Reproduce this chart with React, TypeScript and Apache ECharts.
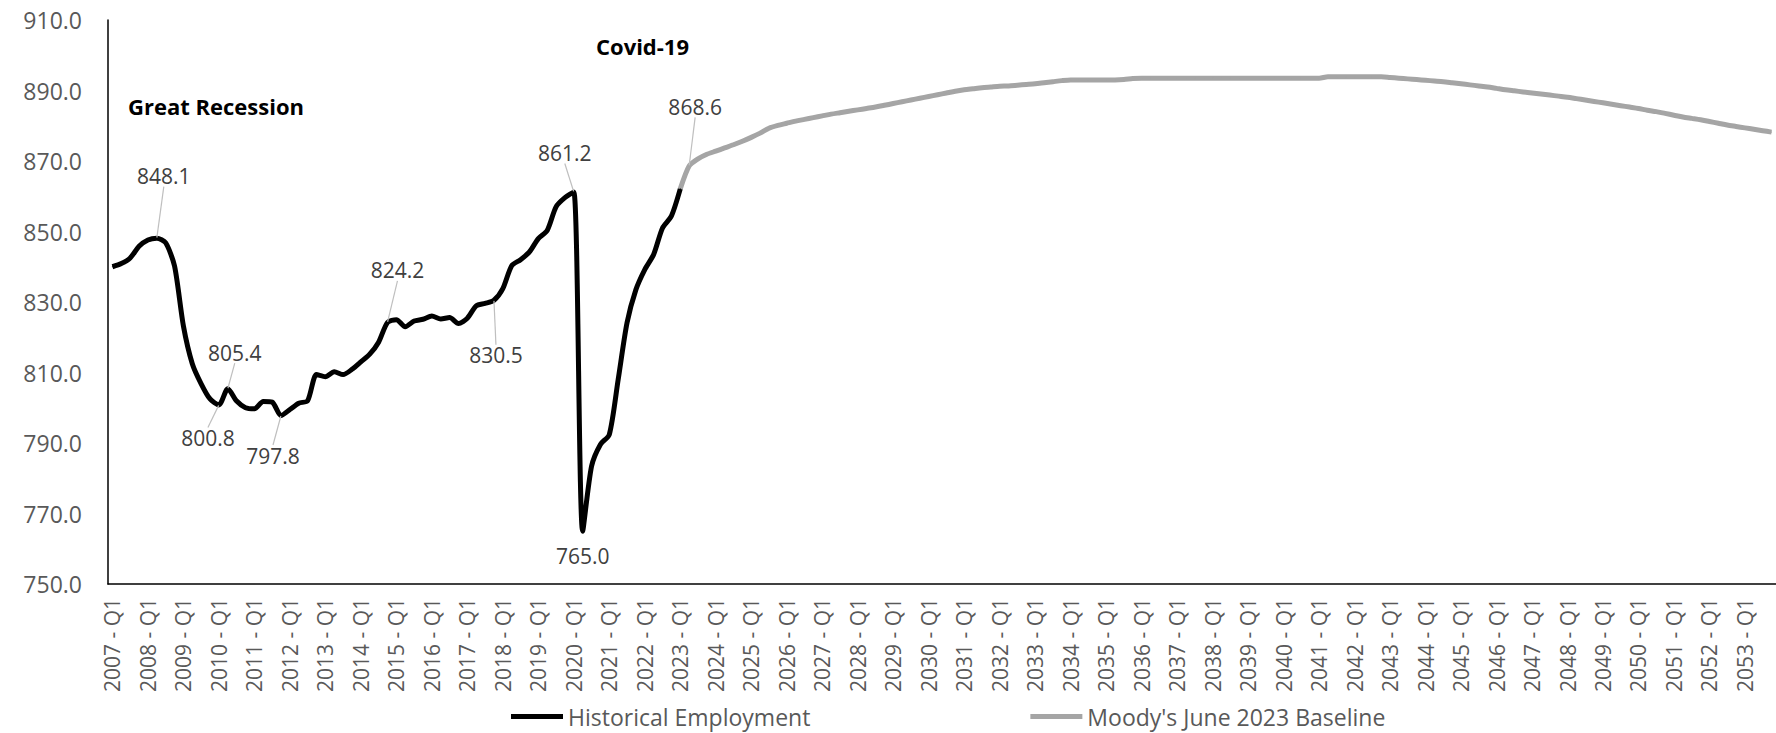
import React, { useEffect, useRef } from "react";
import * as echarts from "echarts";

// ---- Data ----
const startYear = 2007;
const endYear = 2053;
const quarters = ["Q1", "Q2", "Q3", "Q4"];

// Historical employment, 2007 Q1 .. 2023 Q1 (quarterly)
const historical: number[] = [
  840.0, 840.9, 842.5, 845.8, // 2007
  847.6, 848.1, 846.8, 840.2, // 2008
  823.2, 812.5, 806.8, 802.5, // 2009
  800.8, 805.4, 801.9, 800.0, // 2010
  799.7, 801.8, 801.6, 797.8, // 2011
  799.5, 801.3, 802.0, 809.4, // 2012
  808.8, 810.2, 809.4, 810.9, // 2013
  813.0, 815.2, 818.6, 824.2, // 2014
  825.0, 823.0, 824.6, 825.1, // 2015
  826.0, 825.2, 825.6, 823.9, // 2016
  825.4, 828.9, 829.6, 830.5, // 2017
  833.8, 840.3, 842.0, 844.2, // 2018
  848.0, 850.3, 857.0, 859.6, // 2019
  861.2, 765.0, 783.4, 789.6, // 2020
  792.4, 808.0, 824.1, 833.5, // 2021
  839.2, 843.5, 851.0, 854.4, // 2022
  862.1, // 2023 Q1
];

// Moody's June 2023 Baseline, 2023 Q1 .. 2053 Q4 (quarterly)
const baseline: number[] = [
  862.1, 868.6, 870.6, 871.9, // 2023
  872.8, 873.7, 874.6, 875.6, // 2024
  876.7, 877.9, 879.3, 880.1, // 2025
  880.7, 881.3, 881.8, 882.3, // 2026
  882.8, 883.3, 883.7, 884.1, // 2027
  884.5, 884.9, 885.3, 885.8, // 2028
  886.3, 886.8, 887.3, 887.8, // 2029
  888.3, 888.8, 889.3, 889.8, // 2030
  890.2, 890.5, 890.8, 891.0, // 2031
  891.2, 891.3, 891.5, 891.7, // 2032
  891.9, 892.2, 892.5, 892.8, // 2033
  893.0, 893.0, 893.0, 893.0, // 2034
  893.0, 893.0, 893.1, 893.4, // 2035
  893.5, 893.5, 893.5, 893.5, // 2036
  893.5, 893.5, 893.5, 893.5, // 2037
  893.5, 893.5, 893.5, 893.5, // 2038
  893.5, 893.5, 893.5, 893.5, // 2039
  893.5, 893.5, 893.5, 893.5, // 2040
  893.5, 893.9, 893.9, 893.9, // 2041
  893.9, 893.9, 893.9, 893.9, // 2042
  893.7, 893.5, 893.3, 893.1, // 2043
  892.9, 892.7, 892.5, 892.2, // 2044
  891.9, 891.6, 891.3, 891.0, // 2045
  890.6, 890.2, 889.9, 889.6, // 2046
  889.3, 889.0, 888.7, 888.4, // 2047
  888.1, 887.7, 887.3, 886.9, // 2048
  886.5, 886.1, 885.7, 885.3, // 2049
  884.9, 884.4, 884.0, 883.5, // 2050
  883.0, 882.5, 882.1, 881.7, // 2051
  881.2, 880.7, 880.2, 879.8, // 2052
  879.4, 879.0, 878.6, 878.2, // 2053
];

const yTicks = { min: 750, max: 910, step: 20 };

// Which points carry a data label (category name)
const labeledHistorical = ["2008 - Q2", "2010 - Q1", "2010 - Q2", "2011 - Q4", "2014 - Q4", "2017 - Q4", "2020 - Q1", "2020 - Q2"];
const labeledBaseline = ["2023 - Q2"];

const seriesNames = ["Historical Employment", "Moody's June 2023 Baseline"];
const annotations = ["Great Recession", "Covid-19"];

// ---- Layout / styling (not data) ----
const labelOffsets: Record<string, [number, number]> = {
  "2008 - Q2": [7, -62],
  "2010 - Q1": [-11, 33],
  "2010 - Q2": [7, -36],
  "2011 - Q4": [-8, 40],
  "2014 - Q4": [10, -52],
  "2017 - Q4": [2, 55],
  "2020 - Q1": [-9, -39],
  "2020 - Q2": [0, 25],
  "2023 - Q2": [6, -59],
};
const noLeader = ["2020 - Q2"];

const FONT = "'Open Sans', 'Noto Sans', sans-serif";

export default function App() {
  const ref = useRef<HTMLDivElement>(null);

  useEffect(() => {
    document.body.style.margin = "0";
    if (!ref.current) return;
    const chart = echarts.init(ref.current, undefined, { renderer: "svg" });

    const categories: string[] = [];
    for (let y = startYear; y <= endYear; y++) {
      for (const q of quarters) categories.push(`${y} - ${q}`);
    }
    const baseStart = categories.indexOf("2023 - Q1");

    const makeItem = (v: number | null, cat: string, labeled: string[]) => {
      if (v === null) return null;
      if (!labeled.includes(cat)) return v;
      return {
        value: v,
        label: { show: true },
        labelLine: { show: !noLeader.includes(cat) },
      };
    };

    const histData = categories.map((c, i) =>
      makeItem(i < historical.length ? historical[i] : null, c, labeledHistorical)
    );
    const baseData = categories.map((c, i) =>
      makeItem(i >= baseStart && i - baseStart < baseline.length ? baseline[i - baseStart] : null, c, labeledBaseline)
    );

    const layoutFn = (params: any) => {
      const cat = categories[params.dataIndex];
      const off = labelOffsets[cat];
      if (!off) return {};
      const cx = params.rect.x + params.rect.width / 2;
      const cy = params.rect.y + params.rect.height / 2;
      return { x: cx + off[0], y: cy + off[1], align: "center", verticalAlign: "middle" };
    };

    const labelCommon = {
      show: false,
      position: "inside",
      formatter: (p: any) => Number(p.value).toFixed(1),
      color: "#404040",
      fontSize: 21,
      fontFamily: FONT,
    };

    chart.setOption({
      animation: false,
      backgroundColor: "#ffffff",
      grid: { left: 108, right: -5, top: 20, bottom: 149, containLabel: false },
      legend: {
        data: seriesNames,
        left: 511,
        top: 705,
        padding: 0,
        icon: "rect",
        itemWidth: 52,
        itemHeight: 5,
        itemGap: 220,
        textStyle: { color: "#595959", fontSize: 23, lineHeight: 23, fontFamily: FONT },
      },
      xAxis: {
        type: "category",
        data: categories,
        boundaryGap: true,
        axisLine: { show: true, lineStyle: { color: "#000", width: 1.5 } },
        axisTick: { show: false },
        axisLabel: {
          interval: 3,
          rotate: 90,
          margin: 14,
          color: "#595959",
          fontSize: 21,
          fontFamily: FONT,
        },
        splitLine: { show: false },
      },
      yAxis: {
        type: "value",
        min: yTicks.min,
        max: yTicks.max,
        interval: yTicks.step,
        axisLine: { show: true, lineStyle: { color: "#000", width: 1.5 } },
        axisTick: { show: false },
        splitLine: { show: false },
        axisLabel: {
          margin: 26,
          color: "#595959",
          fontSize: 23,
          fontFamily: FONT,
          formatter: (v: number) => v.toFixed(1),
        },
      },
      series: [
        {
          name: seriesNames[0],
          type: "line",
          data: histData,
          smooth: 0.25,
          showSymbol: true,
          showAllSymbol: true,
          symbol: "circle",
          symbolSize: 1,
          itemStyle: { color: "#000000" },
          lineStyle: { color: "#000000", width: 5 },
          label: labelCommon,
          labelLine: { show: true, lineStyle: { color: "#BFBFBF", width: 1.2 } },
          labelLayout: layoutFn,
          emphasis: { disabled: true },
          z: 3,
        },
        {
          name: seriesNames[1],
          type: "line",
          data: baseData,
          smooth: 0.25,
          showSymbol: true,
          showAllSymbol: true,
          symbol: "circle",
          symbolSize: 1,
          itemStyle: { color: "#A5A5A5" },
          lineStyle: { color: "#A5A5A5", width: 5 },
          label: labelCommon,
          labelLine: { show: true, lineStyle: { color: "#BFBFBF", width: 1.2 } },
          labelLayout: layoutFn,
          emphasis: { disabled: true },
          z: 2,
        },
      ],
      graphic: [
        {
          type: "text",
          left: 128,
          top: 95,
          style: { text: annotations[0], fill: "#000", font: `bold 22px ${FONT}` },
        },
        {
          type: "text",
          left: 596,
          top: 35,
          style: { text: annotations[1], fill: "#000", font: `bold 22px ${FONT}` },
        },
      ],
    });

    return () => chart.dispose();
  }, []);

  return <div ref={ref} style={{ width: 1776, height: 733 }} />;
}
